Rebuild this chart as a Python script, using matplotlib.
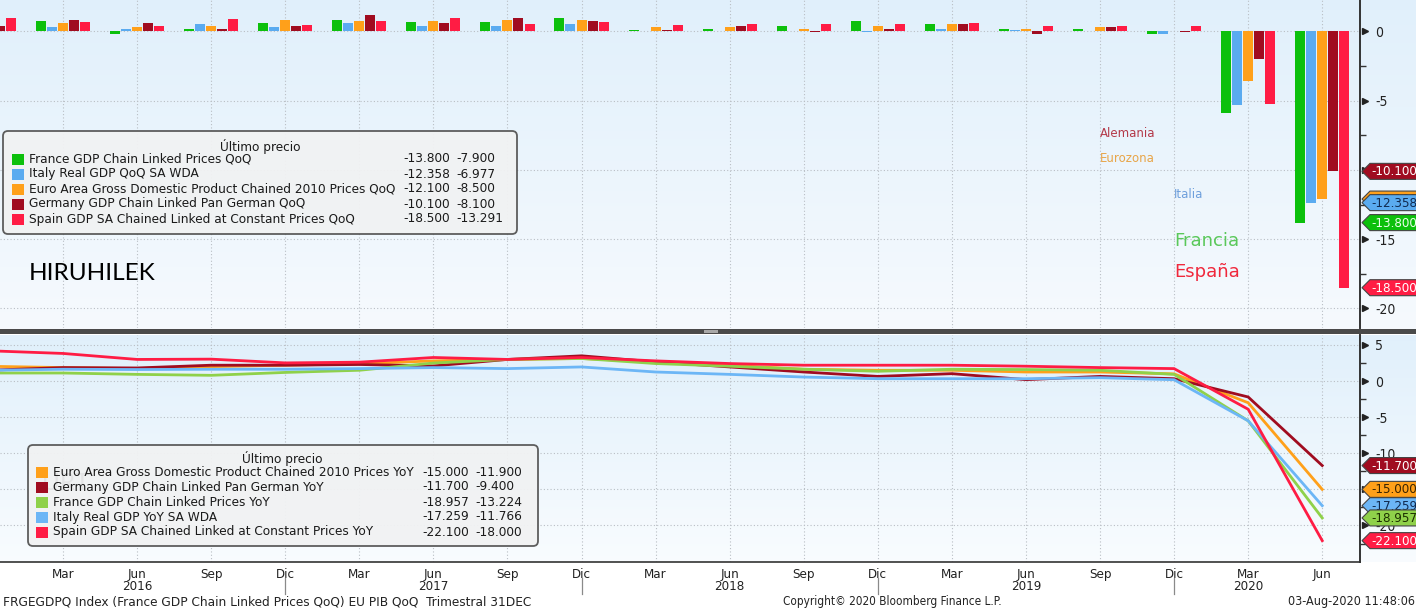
import numpy as np
import matplotlib
matplotlib.use("Agg")
import matplotlib.pyplot as plt
from matplotlib.patches import FancyBboxPatch, Polygon, Rectangle
from matplotlib.transforms import blended_transform_factory

W, H = 1416, 610

# ---- data ----
quarters = ["Dic 2015", "Mar 2016", "Jun 2016", "Sep 2016", "Dic 2016",
            "Mar 2017", "Jun 2017", "Sep 2017", "Dic 2017",
            "Mar 2018", "Jun 2018", "Sep 2018", "Dic 2018",
            "Mar 2019", "Jun 2019", "Sep 2019", "Dic 2019",
            "Mar 2020", "Jun 2020"]
month_labels = [q.split()[0] for q in quarters]
year_labels = ["2016", "2017", "2018", "2019", "2020"]
year_at = ["Jun 2016", "Jun 2017", "Jun 2018", "Jun 2019", "Mar 2020"]
year_breaks = ["Dic 2016", "Dic 2017", "Dic 2018", "Dic 2019"]

# QoQ (top panel)
france_qoq = [0.3, 0.75, -0.17, 0.19, 0.6, 0.8, 0.72, 0.72, 0.94, 0.14, 0.19, 0.41, 0.75, 0.55, 0.19, 0.19, -0.17, -5.9, -13.8]
italy_qoq = [0.2, 0.36, 0.19, 0.53, 0.31, 0.6, 0.41, 0.41, 0.53, 0.02, 0.05, 0.0, -0.05, 0.19, 0.12, 0.02, -0.17, -5.3, -12.358]
euro_qoq = [0.4, 0.6, 0.31, 0.41, 0.8, 0.75, 0.75, 0.8, 0.8, 0.31, 0.36, 0.19, 0.41, 0.55, 0.19, 0.36, 0.05, -3.6, -12.1]
germany_qoq = [0.43, 0.82, 0.6, 0.19, 0.41, 1.2, 0.6, 0.94, 0.75, 0.12, 0.41, -0.05, 0.19, 0.55, -0.19, 0.36, -0.05, -2.0, -10.1]
spain_qoq = [1.0, 0.67, 0.41, 0.87, 0.48, 0.75, 1.0, 0.53, 0.67, 0.48, 0.55, 0.55, 0.55, 0.63, 0.41, 0.41, 0.41, -5.2, -18.5]

qoq_names = ["France GDP Chain Linked Prices QoQ",
             "Italy Real GDP QoQ SA WDA",
             "Euro Area Gross Domestic Product Chained 2010 Prices QoQ",
             "Germany GDP Chain Linked Pan German QoQ",
             "Spain GDP SA Chained Linked at Constant Prices QoQ"]
qoq_last = ["-13.800", "-12.358", "-12.100", "-10.100", "-18.500"]
qoq_prev = ["-7.900", "-6.977", "-8.500", "-8.100", "-13.291"]

# YoY (bottom panel)
euro_yoy = [2.05, 1.87, 1.73, 2.0, 2.2, 2.4, 2.8, 3.0, 3.13, 2.66, 2.2, 1.64, 1.5, 1.5, 1.26, 1.26, 1.0, -3.0, -15.0]
germany_yoy = [1.5, 1.87, 1.82, 2.2, 2.2, 2.3, 2.1, 3.0, 3.5, 2.66, 1.96, 1.26, 0.65, 1.03, 0.2, 0.65, 0.33, -2.2, -11.7]
france_yoy = [1.12, 1.12, 0.93, 0.8, 1.2, 1.5, 2.5, 3.0, 3.13, 2.43, 2.06, 1.64, 1.36, 1.64, 1.6, 1.5, 0.93, -5.5, -18.957]
italy_yoy = [1.5, 1.64, 1.6, 1.64, 1.64, 1.73, 1.87, 1.73, 1.96, 1.26, 0.93, 0.56, 0.33, 0.33, 0.33, 0.47, 0.19, -5.5, -17.259]
spain_yoy = [4.2, 3.83, 3.0, 3.04, 2.52, 2.62, 3.27, 3.0, 3.27, 2.8, 2.43, 2.2, 2.2, 2.2, 2.06, 1.87, 1.73, -3.9, -22.1]

yoy_names = ["Euro Area Gross Domestic Product Chained 2010 Prices YoY",
             "Germany GDP Chain Linked Pan German YoY",
             "France GDP Chain Linked Prices YoY",
             "Italy Real GDP YoY SA WDA",
             "Spain GDP SA Chained Linked at Constant Prices YoY"]
yoy_last = ["-15.000", "-11.700", "-18.957", "-17.259", "-22.100"]
yoy_prev = ["-11.900", "-9.400", "-13.224", "-11.766", "-18.000"]

# ---- styles ----
GREEN, BLUE, ORANGE, DRED, RED, LGREEN = "#0cc00c", "#5aabf0", "#ffa01a", "#a00c20", "#ff1c44", "#8fd14a"
qoq_colors = [GREEN, BLUE, ORANGE, DRED, RED]
yoy_colors = [ORANGE, DRED, LGREEN, "#6cb6f6", RED]
qoq_tagtext = ["#eaffea", "#102a50", "#3a2400", "white", "white"]
yoy_tagtext = ["#3a2400", "white", "#1c3000", "#102a50", "white"]

plt.rcParams["font.family"] = ["DejaVu Sans"]
COND = dict(fontfamily="DejaVu Sans", fontstretch="condensed")

fig = plt.figure(figsize=(W / 100, H / 100), dpi=100)
fig.patch.set_facecolor("white")

# background gradients + separator
bg = fig.add_axes([0, 0, 1, 1], zorder=0)
bg.axis("off")


def gradient(y0, y1, c0, c1):
    t = np.linspace(0, 1, 200)[:, None]
    img = (1 - t)[..., None] * np.array(c0)[None, None, :] + t[..., None] * np.array(c1)[None, None, :]
    bg.imshow(img, extent=(0, W, y1, y0), aspect="auto", interpolation="bilinear")


gradient(0, 329, (0.88, 0.94, 0.985), (0.965, 0.98, 0.995))
gradient(335, 562, (0.88, 0.94, 0.985), (0.975, 0.988, 0.998))
bg.set_xlim(0, W)
bg.set_ylim(H, 0)
bg.add_patch(Rectangle((0, 328.5), W, 5.5, color="#4a4a4a", lw=0))
bg.add_patch(Rectangle((704, 330), 14, 2.5, color="#a8a8a8", lw=0))

X0, X1 = 0.149, 18.51
x = np.arange(len(quarters))
qidx = {q: i for i, q in enumerate(quarters)}

ax1 = fig.add_axes([0, 1 - 328 / H, 1360 / W, 328 / H], zorder=1)
ax2 = fig.add_axes([0, 1 - 562 / H, 1360 / W, 227 / H], zorder=1)
for ax in (ax1, ax2):
    ax.set_facecolor("none")
    ax.set_xlim(X0, X1)
    for s in ("top", "left", "bottom"):
        ax.spines[s].set_visible(False)
    ax.spines["right"].set_color("#333333")
    ax.spines["right"].set_linewidth(1.4)
    ax.yaxis.tick_right()
    ax.tick_params(axis="y", length=0, pad=11, labelsize=10, labelcolor="#222222")
    ax.set_xticks(x[1:])
    ax.grid(True, linestyle=(0, (1, 2)), color="#b9bec4", lw=0.8)
    ax.set_axisbelow(True)

# top: bars
qoq_series = [france_qoq, italy_qoq, euro_qoq, germany_qoq, spain_qoq]
for k, (vals, col) in enumerate(zip(qoq_series, qoq_colors)):
    ax1.bar(x + (k - 2) * 0.149, vals, width=0.135, color=col, zorder=3)
ax1.set_ylim(-21.41, 2.274)
ax1.set_yticks([0, -5, -10, -15, -20])
ax1.set_yticklabels(["0", "-5", "-10", "-15", "-20"], **COND)
ax1.tick_params(axis="x", length=0, labelbottom=False)

# bottom: lines
yoy_series = [euro_yoy, germany_yoy, france_yoy, italy_yoy, spain_yoy]
for vals, col in zip(yoy_series, yoy_colors):
    ax2.plot(x, vals, color=col, lw=2.0, solid_joinstyle="miter", zorder=3)
ax2.set_ylim(-25.06, 6.385)
ax2.set_yticks([5, 0, -5, -10, -15, -20])
ax2.set_yticklabels(["5", "0", "-5", "-10", "-15", "-20"], **COND)
ax2.spines["bottom"].set_visible(True)
ax2.spines["bottom"].set_color("#333333")
ax2.spines["bottom"].set_linewidth(1.2)
ax2.set_xticklabels(month_labels[1:], fontsize=9.5, color="#222222", **COND)
ax2.tick_params(axis="x", length=0, pad=4)

for lab, q in zip(year_labels, year_at):
    ax2.annotate(lab, (qidx[q], 0), xycoords=("data", "axes fraction"), xytext=(0, -18),
                 textcoords="offset points", ha="center", va="center",
                 fontsize=9.5, color="#222222", annotation_clip=False, **COND)
tb = blended_transform_factory(ax2.transData, ax2.transAxes)
for q in year_breaks:
    ax2.plot([qidx[q], qidx[q]], [-0.07, -0.142], transform=tb, color="#8a8a8a", lw=0.9, clip_on=False)

# right-axis tick arrows and minor ticks
for ax, major, minor in ((ax1, [0, -5, -10, -15, -20], [-2.5, -7.5, -12.5, -17.5]),
                         (ax2, [5, 0, -5, -10, -15, -20], [2.5, -2.5, -7.5, -12.5, -17.5, -22.5])):
    tr = blended_transform_factory(ax.transAxes, ax.transData)
    ax.plot([1.004] * len(major), major, ls="none", marker=">", ms=4.5, color="#222222",
            transform=tr, clip_on=False)
    ax.plot([1.002] * len(minor), minor, ls="none", marker="_", ms=5, mew=1.0, color="#333333",
            transform=tr, clip_on=False)

# annotations top panel
ax1.text(15.0, -7.33, "Alemania", color="#b33848", fontsize=8.5, va="center")
ax1.text(15.0, -9.2, "Eurozona", color="#e8a548", fontsize=8.5, va="center")
ax1.text(16.0, -11.8, "Italia", color="#6e9fdc", fontsize=8.5, va="center")
ax1.text(16.0, -15.1, "Francia", color="#5ac85a", fontsize=13, va="center")
ax1.text(16.0, -17.4, "España", color="#f0283c", fontsize=13, va="center")
ax1.text(0.021, 0.165, "HIRUHILEK", transform=ax1.transAxes, fontfamily=["Lato", "DejaVu Sans"],
         fontsize=17.5, va="center", color="black")
ax2.text(0.031, 0.345, "URT", transform=ax2.transAxes, fontfamily=["Lato", "DejaVu Sans"],
         fontsize=17.5, va="center", color="black")

# overlay for legends, tags and footer
ov = fig.add_axes([0, 0, 1, 1], zorder=5)
ov.set_xlim(0, W)
ov.set_ylim(H, 0)
ov.axis("off")


def legend_box(x0, y0, x1, y1, title_x, rows_y, sq_x, lab_x, c1_x, c2_x, labels, colors, last, prev):
    ov.add_patch(FancyBboxPatch((x0, y0), x1 - x0, y1 - y0, boxstyle="round,pad=0,rounding_size=5",
                                fc="#f1f2f3", ec="#555555", lw=1.3, alpha=0.95))
    ov.text(title_x, rows_y[0] - 13, "Último precio", ha="center", va="center", fontsize=8.7, color="#1a1a1a")
    for yy, lab, col, a, b in zip(rows_y, labels, colors, last, prev):
        ov.add_patch(Rectangle((sq_x, yy - 5.5), 12, 11, color=col, lw=0))
        ov.text(lab_x, yy, lab, va="center", fontsize=8.7, color="#1a1a1a")
        ov.text(c1_x, yy, a, va="center", fontsize=8.7, color="#1a1a1a")
        ov.text(c2_x, yy, b, va="center", fontsize=8.7, color="#1a1a1a")


legend_box(3, 131, 517, 234, 260, [159, 174, 189, 204, 219], 12, 29, 403, 456,
           qoq_names, qoq_colors, qoq_last, qoq_prev)
legend_box(28, 445, 538, 546, 282, [472, 487, 502, 517, 532], 36, 53, 422, 475,
           yoy_names, yoy_colors, yoy_last, yoy_prev)

tag_z = [20]


def tag(ax, val, text, col, tcol):
    yc = H - ax.transData.transform((0, val))[1]
    pts = [(1362, yc), (1370, yc - 8), (W + 5, yc - 8), (W + 5, yc + 8), (1370, yc + 8)]
    ov.add_patch(Polygon(pts, closed=True, fc=col, ec="#444444", lw=0.8, zorder=tag_z[0]))
    ov.text(1371, yc + 0.5, text, va="center", fontsize=9.5, color=tcol, zorder=tag_z[0] + 1, **COND)
    tag_z[0] += 2


# drawn in reverse legend order so the first item ends on top
for vals, lab, col, tc in list(zip(qoq_series, qoq_last, qoq_colors, qoq_tagtext))[::-1]:
    tag(ax1, vals[-1], lab, col, tc)
for vals, lab, col, tc in list(zip(yoy_series, yoy_last, yoy_colors, yoy_tagtext))[::-1]:
    tag(ax2, vals[-1], lab, col, tc)

# footer
ov.text(3, 602, "FRGEGDPQ Index (France GDP Chain Linked Prices QoQ) EU PIB QoQ  Trimestral 31DEC",
        fontsize=9.7, va="center", color="#222222", **COND)
ov.text(892, 602, "Copyright\u00a9 2020 Bloomberg Finance L.P.", fontsize=8.5,
        va="center", ha="center", color="#222222", **COND)
ov.text(1415, 602, "03-Aug-2020 11:48:06", fontsize=9, va="center", ha="right",
        color="#222222", **COND)

fig.savefig("out.png", dpi=100)
